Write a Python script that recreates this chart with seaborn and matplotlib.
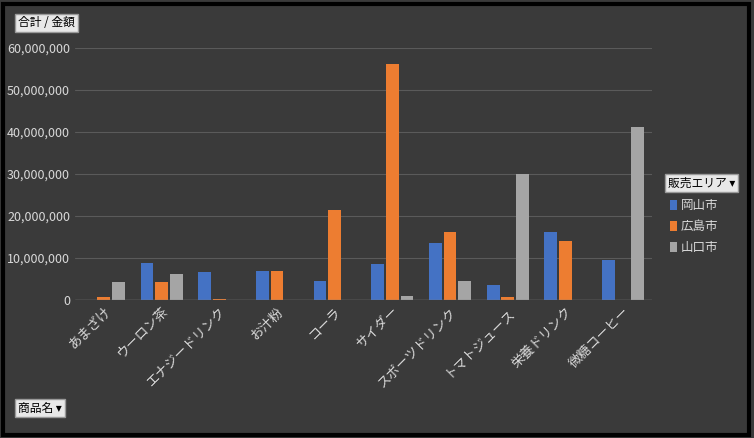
import matplotlib
matplotlib.use("Agg")
import matplotlib.pyplot as plt
import pandas as pd
import seaborn as sns
from matplotlib.patches import Rectangle

products = ["あまざけ", "ウーロン茶", "エナジードリンク", "お汁粉", "コーラ", "サイダー",
            "スポーツドリンク", "トマトジュース", "栄養ドリンク", "微糖コーヒー"]
areas = ["岡山市", "広島市", "山口市"]
okayama = [0, 8800000, 6600000, 7000000, 4500000, 8500000, 13600000, 3600000, 16300000, 9500000]
hiroshima = [800000, 4200000, 200000, 7000000, 21500000, 56300000, 16300000, 700000, 14000000, 0]
yamaguchi = [4300000, 6300000, 0, 0, 0, 1000000, 4600000, 30000000, 0, 41300000]
colors = ["#4472C4", "#ED7D31", "#A5A5A5"]

df = pd.DataFrame({"商品名": products * 3,
                   "販売エリア": [a for a in areas for _ in products],
                   "金額": okayama + hiroshima + yamaguchi})

sns.set_theme(style="dark")
plt.rcParams['font.family'] = ['Noto Sans CJK JP', 'DejaVu Sans']

fig = plt.figure(figsize=(7.54, 4.38), dpi=100)
fig.patch.set_facecolor("#3a3a3a")
# outer frame
fig.add_artist(Rectangle((0.004, 0.007), 0.99, 0.985, transform=fig.transFigure,
                         fill=False, edgecolor="black", linewidth=3))
ax = fig.add_axes([75 / 754, 1 - 300 / 438, (652 - 75) / 754, (300 - 48) / 438])
ax.set_facecolor("none")
sns.barplot(data=df, x="商品名", y="金額", hue="販売エリア", palette=colors, saturation=1,
            width=0.76, gap=0.12, ax=ax, legend=False, linewidth=0, edgecolor="none")
ax.set_ylim(0, 60000000)
ax.set_yticks(range(0, 60000001, 10000000))
ax.set_yticklabels([f"{v:,}" for v in range(0, 60000001, 10000000)], color="#d9d9d9", fontsize=9)
ax.set_xticks(range(len(products)))
ax.set_xticklabels(products, rotation=45, ha="right", rotation_mode="anchor",
                   color="#d9d9d9", fontsize=9.5)
ax.tick_params(length=0)
ax.grid(axis="y", color="#5a5a5a", linewidth=0.8)
ax.set_axisbelow(True)
for s in ax.spines.values():
    s.set_visible(False)
ax.axhline(0, color="#808080", linewidth=1)
ax.set_xlabel("")
ax.set_ylabel("")

btn = dict(boxstyle="square,pad=0.25", facecolor="#e8e8e8", edgecolor="#999999")
fig.text(18 / 754, 1 - 23 / 438, "合計 / 金額", fontsize=8.5, color="black", va="center", bbox=btn)
fig.text(18 / 754, 1 - 408 / 438, "商品名 ▾", fontsize=8.5, color="black", va="center", bbox=btn)
fig.text(668 / 754, 1 - 183 / 438, "販売エリア ▾", fontsize=8.5, color="black", va="center", bbox=btn)
for i, (a, c) in enumerate(zip(areas, colors)):
    y = 1 - (205 + i * 21) / 438
    fig.add_artist(Rectangle((670 / 754, y - 0.012), 7 / 754, 0.024, transform=fig.transFigure,
                             facecolor=c, edgecolor="none"))
    fig.text(681 / 754, y, a, fontsize=9, color="#d9d9d9", va="center")

fig.savefig("out.png", dpi=100, facecolor=fig.get_facecolor())
